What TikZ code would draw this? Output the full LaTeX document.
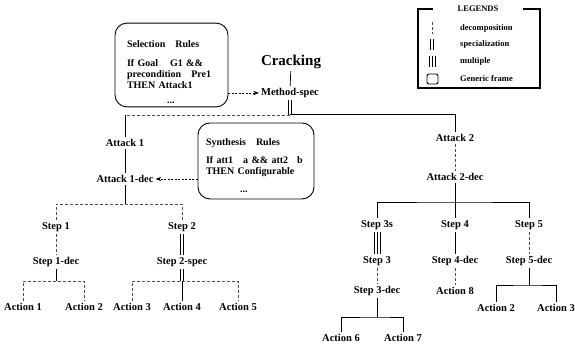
\documentclass[tikz,border=0pt]{standalone}
\usepackage{fontspec}
\setmainfont{Liberation Serif}
\usetikzlibrary{arrows.meta, positioning}

\begin{document}
\begin{tikzpicture}[
  x=1pt, y=-1pt,
  lbl/.style={font=\fontsize{10.5}{12}\selectfont\bfseries, inner sep=2pt},
  legtxt/.style={font=\fontsize{8.5}{10}\selectfont\bfseries, anchor=west, inner sep=0pt},
  rules/.style={draw, line width=0.9pt, rounded corners=12pt, align=left,
                font=\fontsize{10}{11}\selectfont\bfseries},
  dec/.style={line width=0.7pt},
  decd/.style={line width=0.6pt, dash pattern=on 3pt off 2pt, gray!60!black},
  spec/.style={line width=0.7pt, double, double distance=2.2pt},
  arr/.style={-Stealth, line width=0.6pt, dash pattern=on 2pt off 1.5pt}
]
\useasboundingbox (0,0) rectangle (575,352);

% generic frames
\node[rules, text width=89pt, minimum width=113pt, minimum height=80pt, inner xsep=12pt,
      text height=21pt]
  (selrules) at (171.5,65)
  {Selection\quad Rules\\[8pt] If Goal\hspace{12pt}G1 \&\&\\ precondition\hspace{10pt}Pre1\\ THEN Attack1\\[4pt] \hspace*{40pt}...};
\node[rules, text width=100pt, minimum width=116pt, minimum height=76pt, inner xsep=8pt,
      text height=16pt]
  (synth) at (256,161)
  {Synthesis\quad Rules\\[7pt] If att1\hspace{10pt}a \&\& att2\hspace{9pt}b\\ THEN Configurable\\[7pt] \hspace*{34pt}...};

% top
\node[font=\fontsize{15}{17}\selectfont\bfseries, inner sep=2pt] (crack) at (291,62) {Cracking};
\node[lbl] (method) at (290,93) {Method-spec};
\node[lbl] (att1) at (125,143) {Attack 1};
\node[lbl] (att2) at (455,138) {Attack 2};
\node[lbl] (att1dec) at (125,179) {Attack 1-dec};
\node[lbl] (att2dec) at (455,177) {Attack 2-dec};

% left branch
\node[lbl] (step1) at (56,227) {Step 1};
\node[lbl] (step2) at (182,227) {Step 2};
\node[lbl] (s1dec) at (56,262) {Step 1-dec};
\node[lbl] (s2spec) at (182,262) {Step 2-spec};
\node[lbl] (act1) at (23,307) {Action 1};
\node[lbl] (act2) at (84,307) {Action 2};
\node[lbl] (act3) at (132,307) {Action 3};
\node[lbl] (act4) at (182,307) {Action 4};
\node[lbl] (act5) at (238,307) {Action 5};

% right branch
\node[lbl] (s3s) at (377,225) {Step 3s};
\node[lbl] (step4) at (455,225) {Step 4};
\node[lbl] (step5) at (529,225) {Step 5};
\node[lbl] (step3) at (377,261) {Step 3};
\node[lbl] (s4dec) at (455,261) {Step 4-dec};
\node[lbl] (s5dec) at (529,261) {Step 5-dec};
\node[lbl] (s3dec) at (377,291) {Step 3-dec};
\node[lbl] (act8) at (455,291) {Action 8};
\node[lbl] (act6) at (341,338) {Action 6};
\node[lbl] (act7) at (403,338) {Action 7};
\node[lbl] (act2b) at (496,308) {Action 2};
\node[lbl] (act3b) at (556,308) {Action 3};

% bars
\coordinate (topbar) at (290,115);
\coordinate (bar1) at (125,204);
\coordinate (bar2) at (56,281);
\coordinate (bar3) at (182,281);
\coordinate (bar4) at (455,202);
\coordinate (bar5) at (377,317);
\coordinate (bar6) at (529,285);

% connectors
\draw[dec] (crack) -- (method);
\draw[arr] (selrules.east |- method) -- (method.west);
\draw[spec] (method.south) -- (topbar);
\draw[decd] (topbar) -- (topbar -| att1);
\draw[dec] (topbar -| att1) -- (att1);
\draw[dec, line width=1pt] (topbar) -| (att2);

\draw[dec] (att1) -- (att1dec);
\draw[arr] (synth.west |- att1dec) -- (att1dec.east);
\draw[dec] (att1dec) -- (bar1);
\draw[decd] (step1) |- (bar1) -| (step2);
\draw[decd] (step1) -- (s1dec);
\draw[spec] (step2) -- (s2spec);
\draw[dec] (s1dec) -- (bar2);
\draw[decd] (act1) |- (bar2) -| (act2);
\draw[spec] (s2spec.south) -- (bar3);
\draw[decd] (act3) |- (bar3) -| (act5);
\draw[dec] (bar3) -- (act4);

\draw[decd] (att2) -- (att2dec);
\draw[dec] (att2dec) -- (bar4);
\draw[dec] (s3s) |- (bar4) -| (step5);
\draw[dec] (bar4) -- (step4);
\foreach \dx in {-3,0,3}
  \draw[dec] ([xshift=\dx pt]s3s.south) -- ([xshift=\dx pt]step3.north);
\draw[decd] (step3) -- (s3dec);
\draw[dec] (s3dec) -- (bar5);
\draw[dec] (act6) |- (bar5) -| (act7);
\draw[dec] (step4) -- (s4dec);
\draw[decd] (s4dec) -- (act8);
\draw[decd] (step5) -- (s5dec);
\draw[dec] (s5dec) -- (bar6);
\draw[dec] (act2b) |- (bar6) -| (act3b);

% legend
\draw[line width=1.2pt] (418,9) rectangle (540,88);
\node[font=\fontsize{8.5}{10}\selectfont\bfseries, fill=white, minimum width=90pt, inner ysep=1pt]
  (legtitle) at (478,9) {LEGENDS};
\node[legtxt] (lgdec) at (460,28) {decomposition};
\node[legtxt] (lgspec) at (460,44) {specialization};
\node[legtxt] (lgmulti) at (460,61) {multiple};
\node[legtxt] (lgframe) at (460,79) {Generic frame};
\draw[decd] (432,22) -- (432,34);
\draw[spec] (432,39) -- (432,50);
\foreach \dx in {-3,0,3}
  \draw[dec] ({432+\dx},56) -- ({432+\dx},67);
\draw[line width=0.9pt, rounded corners=2pt] (427,74) rectangle (438,84);
\end{tikzpicture}
\end{document}
